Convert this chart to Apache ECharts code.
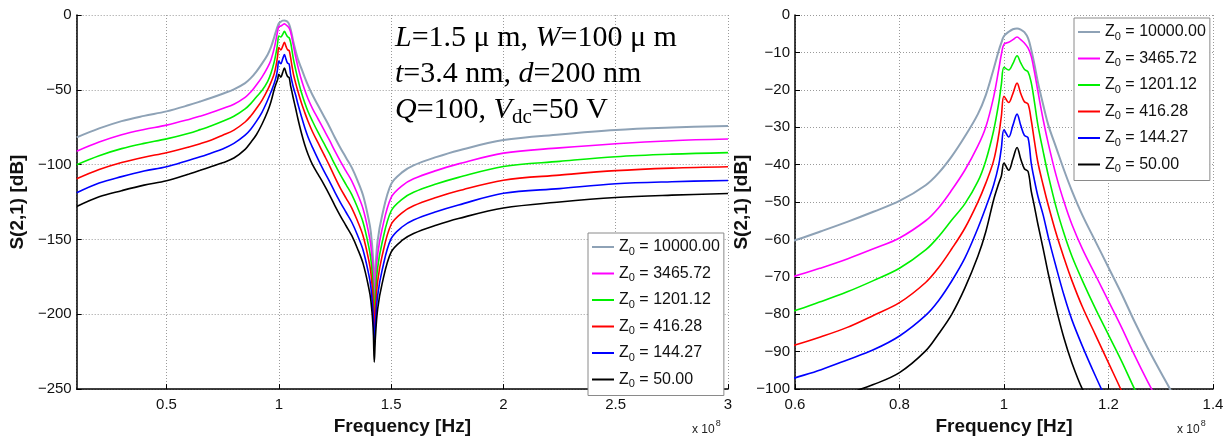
<!DOCTYPE html>
<html>
<head>
<meta charset="utf-8">
<script src="https://cdn.jsdelivr.net/npm/echarts@6/dist/echarts.min.js"></script>
<style>
html,body{margin:0;padding:0;background:#fff;}
#chart{width:1228px;height:441px;}
</style>
</head>
<body>
<div id="chart"></div>
<script>
// Frequency in units of 1e8 Hz
const FREQ = [0.1,0.2,0.3,0.4,0.5,0.6,0.65,0.7,0.75,0.8,0.85,0.875,0.9,0.925,0.95,0.965,0.98,0.99,0.995,1.0,1.009,1.017,1.025,1.032,1.039,1.046,1.052,1.058,1.065,1.075,1.085,1.1,1.115,1.13,1.15,1.175,1.2,1.225,1.25,1.275,1.3,1.325,1.35,1.375,1.4,1.41,1.42,1.425,1.43,1.44,1.46,1.5,1.55,1.6,1.7,1.8,2.0,2.25,2.5,2.75,3.0];

const Z0_LABELS = ['10000.00','3465.72','1201.12','416.28','144.27','50.00'];

const S21_Z10000 = [-81.8,-75.8,-70.9,-67.4,-64.4,-60.2,-57.8,-55.3,-52.6,-49.7,-45.5,-42.2,-37.8,-32.5,-26.5,-21.5,-14.5,-9.5,-7.4,-5.6,-4.5,-3.8,-3.6,-3.9,-4.6,-6.2,-9.2,-13,-18,-24,-29.5,-35.5,-41.5,-47,-53.5,-60.5,-67.5,-74.5,-82,-89,-95.5,-102,-110.5,-120.5,-136.5,-145.5,-163.5,-186.5,-170,-151,-134,-113,-105,-100.5,-95,-90.5,-83.6,-79.8,-76.8,-75.2,-74.2];

const S21_Z3465 = [-91,-84.9,-80,-76.5,-73.6,-69.8,-67.6,-65.2,-62.5,-59.6,-55,-51.5,-46.8,-41.5,-35,-30,-22,-14.5,-10.5,-7.8,-7.3,-6.6,-5.9,-6.6,-7.5,-8.8,-11,-15,-20.5,-28,-34.5,-43,-50,-56,-62.5,-69.5,-76.5,-83.5,-91,-98,-104.5,-111,-119.5,-129.5,-145.5,-154.5,-172.5,-195.5,-179,-160,-143,-122,-114,-109.5,-104,-99.5,-92.3,-88.8,-86,-84,-82.9];

const S21_Z1201 = [-100,-94,-89.3,-85.8,-82.8,-79,-76.6,-74,-71,-67.7,-62.8,-59.2,-54.8,-50.5,-44.5,-39,-31,-23.5,-18.5,-14,-14.7,-13,-10.9,-12.8,-14.5,-15.2,-18,-23,-29.5,-36.5,-43,-51.5,-58.5,-64.5,-71,-78.5,-85.5,-92.5,-100,-107,-113.5,-120,-128.5,-138.5,-154.5,-163.5,-181.5,-204.5,-188,-169,-152,-131,-123,-118.5,-113,-108.5,-101.2,-97.8,-94.7,-93,-92];

const S21_Z416 = [-109.5,-103.3,-98.6,-95,-92,-88.2,-86,-83.5,-80.3,-76.9,-71.5,-67.5,-62.5,-57,-50,-45,-39,-32,-27,-21.7,-23.4,-21,-18.2,-21,-23.2,-23.8,-28,-33.5,-39.5,-45.5,-51,-58.5,-65,-71,-78,-85.5,-93,-100.5,-108.5,-116,-122.5,-129,-137.5,-147.5,-163.5,-172.5,-190.5,-213.5,-197,-178,-161,-140,-132,-127.5,-122,-117.5,-110.4,-107,-104,-102.3,-101.4];

const S21_Z144 = [-118.8,-112.3,-108,-104.3,-101.4,-97,-94.8,-92.2,-89.5,-85.8,-80.3,-76.3,-71.1,-65,-57,-51.5,-45.5,-40,-35.5,-30.7,-32.6,-29.5,-26.5,-29.5,-32.2,-32.8,-39.5,-44,-48.5,-53.5,-59.5,-67.5,-75,-81.5,-88.5,-96.5,-104,-111,-118.5,-125.5,-132,-138.5,-147,-157,-173,-182,-200,-223,-206.5,-187.5,-170.5,-149.5,-141.5,-137,-131.5,-127,-119.1,-116,-112.8,-111.4,-110.6];

const S21_Z50 = [-128,-121.5,-117.4,-113.7,-110.8,-106.2,-103.8,-101.3,-98.8,-95.6,-89.8,-85.2,-80,-73,-64.5,-58,-49.5,-45,-43,-39.6,-41.5,-38.5,-35.4,-38.5,-41.1,-41.8,-47,-51,-56,-62.5,-69.3,-78.5,-86.5,-93,-100,-106.5,-113,-120,-127.5,-134.5,-141,-147.5,-156,-166,-182,-191,-209,-232,-215.5,-196.5,-179.5,-158.5,-150.5,-146,-140.5,-136,-129,-125,-122,-120.4,-119.3];

const SERIES_VALUES = [S21_Z10000, S21_Z3465, S21_Z1201, S21_Z416, S21_Z144, S21_Z50];
const COLORS = ['#8ea2b6', '#ff00ff', '#00f000', '#ff0000', '#0000ff', '#000000'];

const FONT = 'Liberation Sans, Arial, Helvetica, sans-serif';
const SERIF = 'Liberation Serif, Times New Roman, serif';

const names = Z0_LABELS.map(v => 'Z0 = ' + v);
const fmt = v => String(+(+v).toFixed(3)).replace('-', '\u2212');

function makeSeries(axisIdx) {
  return SERIES_VALUES.map((vals, i) => ({
    name: names[i],
    type: 'line',
    xAxisIndex: axisIdx,
    yAxisIndex: axisIdx,
    data: FREQ.map((f, k) => [f, vals[k]]),
    showSymbol: false,
    symbol: 'none',
    smooth: 0.35,
    clip: true,
    animation: false,
    lineStyle: { color: COLORS[i], width: i === 0 ? 2 : 1.6 },
    itemStyle: { color: COLORS[i] },
    z: 2 + i
  }));
}

const legendCommon = {
  orient: 'vertical',
  data: names,
  icon: 'rect',
  itemWidth: 22,
  itemHeight: 2,
  itemGap: 8.5,
  padding: [6, 4, 6, 4],
  backgroundColor: '#fff',
  borderColor: '#8a8a8a',
  borderWidth: 1,
  selectedMode: false,
  formatter: name => '{a|Z}{b|0}{a| = ' + name.split('= ')[1] + '}',
  textStyle: {
    fontFamily: FONT,
    color: '#111',
    rich: {
      a: { fontSize: 16, fontFamily: FONT, color: '#111', height: 20 },
      b: { fontSize: 11, fontFamily: FONT, color: '#111', padding: [9, 0, 0, 0] }
    }
  }
};

const gridLine = { show: true, lineStyle: { color: '#9a9a9a', type: [1, 2], width: 1 } };
const axLine = { show: true, onZero: false, lineStyle: { color: '#000', width: 1.5 } };
const axTick = { show: true, inside: true, length: 5, lineStyle: { color: '#000', width: 1 } };
const labelStyle = { fontFamily: FONT, fontSize: 15, color: '#111' };
const nameStyle = { fontFamily: FONT, fontSize: 19, fontWeight: 'bold', color: '#111' };

const option = {
  backgroundColor: '#fff',
  animation: false,
  grid: [
    { left: 74, top: 15, width: 654, height: 382, containLabel: false },
    { left: 795, top: 15, width: 418, height: 382, containLabel: false }
  ],
  xAxis: [
    {
      gridIndex: 0, type: 'value', min: 0.1, max: 3, splitNumber: 5,
      axisLine: axLine, axisTick: axTick, splitLine: gridLine,
      axisLabel: Object.assign({ margin: 8, showMinLabel: false, formatter: fmt }, labelStyle),
      name: 'Frequency [Hz]', nameLocation: 'middle', nameGap: 16, nameTextStyle: nameStyle
    },
    {
      gridIndex: 1, type: 'value', min: 0.6, max: 1.4, interval: 0.2,
      axisLine: axLine, axisTick: axTick, splitLine: gridLine,
      axisLabel: Object.assign({ margin: 8, formatter: fmt }, labelStyle),
      name: 'Frequency [Hz]', nameLocation: 'middle', nameGap: 16, nameTextStyle: nameStyle
    }
  ],
  yAxis: [
    {
      gridIndex: 0, type: 'value', min: -250, max: 0, interval: 50,
      axisLine: axLine, axisTick: axTick, splitLine: gridLine,
      axisLabel: Object.assign({ margin: 5, formatter: fmt }, labelStyle),
      name: 'S(2,1) [dB]', nameLocation: 'middle', nameGap: 32, nameTextStyle: nameStyle
    },
    {
      gridIndex: 1, type: 'value', min: -100, max: 0, interval: 10,
      axisLine: axLine, axisTick: axTick, splitLine: gridLine,
      axisLabel: Object.assign({ margin: 5, formatter: fmt }, labelStyle),
      name: 'S(2,1) [dB]', nameLocation: 'middle', nameGap: 44, nameTextStyle: nameStyle
    }
  ],
  legend: [
    Object.assign({ left: 588, top: 233 }, legendCommon),
    Object.assign({ left: 1074, top: 18 }, legendCommon)
  ],
  graphic: [
    {
      type: 'text', left: 395, top: 23, z: 10,
      style: {
        text: '{i|L}{r|=1.5 \u03bc m, }{i|W}{r|=100 \u03bc m}',
        fill: '#000',
        rich: {
          i: { fontFamily: SERIF, fontSize: 30, fontStyle: 'italic', fill: '#000' },
          r: { fontFamily: SERIF, fontSize: 30, fill: '#000' }
        }
      }
    },
    {
      type: 'text', left: 395, top: 59, z: 10,
      style: {
        text: '{i|t}{r|=3.4 nm, }{i|d}{r|=200 nm}',
        fill: '#000',
        rich: {
          i: { fontFamily: SERIF, fontSize: 30, fontStyle: 'italic', fill: '#000' },
          r: { fontFamily: SERIF, fontSize: 30, fill: '#000' }
        }
      }
    },
    {
      type: 'text', left: 395, top: 95, z: 10,
      style: {
        text: '{i|Q}{r|=100, }{i|V}{s|dc}{r|=50 V}',
        fill: '#000',
        rich: {
          i: { fontFamily: SERIF, fontSize: 30, fontStyle: 'italic', fill: '#000' },
          r: { fontFamily: SERIF, fontSize: 30, fill: '#000' },
          s: { fontFamily: SERIF, fontSize: 21, fill: '#000', padding: [14, 0, 0, 0] }
        }
      }
    },
    {
      type: 'text', left: 692, top: 419, z: 10,
      style: {
        text: '{n|x 10}{p|8}', fill: '#222',
        rich: {
          n: { fontFamily: FONT, fontSize: 12, fill: '#222', padding: [6, 0, 0, 0] },
          p: { fontFamily: FONT, fontSize: 9, fill: '#222', padding: [0, 0, 6, 1] }
        }
      }
    },
    {
      type: 'text', left: 1177, top: 419, z: 10,
      style: {
        text: '{n|x 10}{p|8}', fill: '#222',
        rich: {
          n: { fontFamily: FONT, fontSize: 12, fill: '#222', padding: [6, 0, 0, 0] },
          p: { fontFamily: FONT, fontSize: 9, fill: '#222', padding: [0, 0, 6, 1] }
        }
      }
    }
  ],
  series: makeSeries(0).concat(makeSeries(1))
};

const chart = echarts.init(document.getElementById('chart'), null, { renderer: 'canvas' });
chart.setOption(option);
</script>
</body>
</html>
